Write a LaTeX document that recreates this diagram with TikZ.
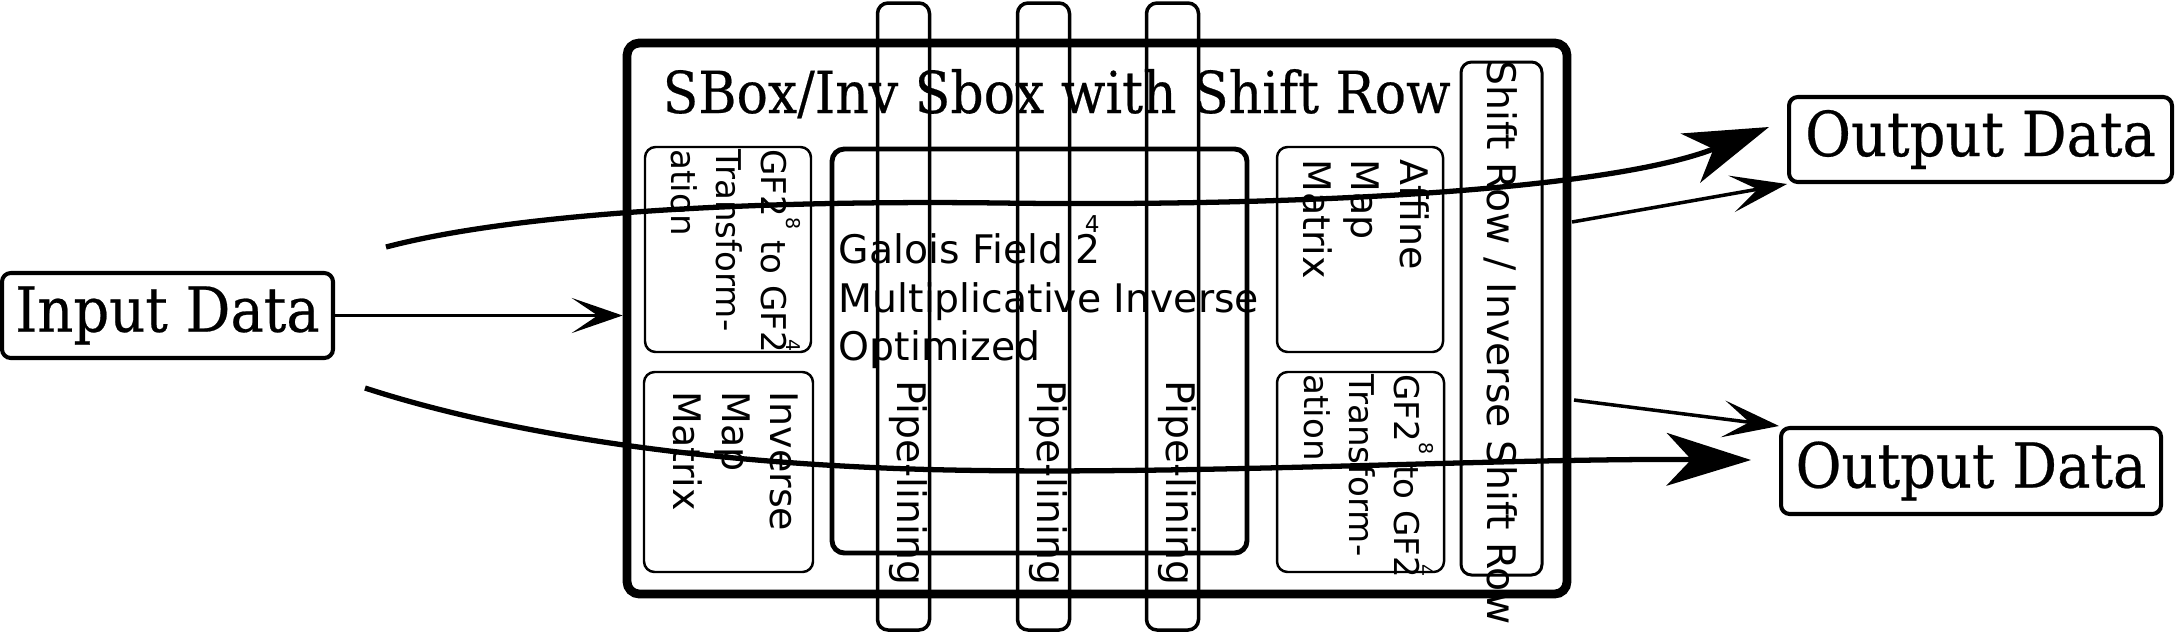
\documentclass[tikz,border=0pt]{standalone}
\usepackage{fontspec}
\setmainfont{DejaVu Serif}[FakeStretch=0.9, FakeBold=0.4]
\setsansfont{DejaVu Sans}
\usetikzlibrary{positioning,calc,arrows.meta}

\newcommand{\gfsup}[1]{\raisebox{0.73em}[0pt][0pt]{\fontsize{5.4pt}{6pt}\selectfont #1}}

\begin{document}
\begin{tikzpicture}[
  x=0.1mm, y=-0.1mm,
  io/.style={draw, rounded corners=2.5pt, line width=1.15pt, inner sep=0pt, font=\fontsize{17.7pt}{20pt}\selectfont},
  mainbox/.style={draw, rounded corners=3.5pt, line width=2.5pt},
  gfbox/.style={draw, rounded corners=3.5pt, line width=1.4pt},
  pipe/.style={draw, rounded corners=3pt, line width=1pt, minimum width=5.2mm, minimum height=62.7mm},
  box/.style={draw, rounded corners=3pt, line width=0.7pt},
  vtext/.style={rotate=-90, anchor=north west, inner sep=0pt, align=left, font=\sffamily\fontsize{10.8pt}{13.9pt}\selectfont},
  vline/.style={rotate=-90, anchor=base west, inner sep=0pt, font=\sffamily\fontsize{11.2pt}{13pt}\selectfont},
  arrow/.style={-{Stealth[length=14.5pt, width=10pt, inset=7.4pt]}, line width=0.75pt},
  outarrow/.style={-{Stealth[length=16pt, width=10.5pt, inset=7.5pt]}, line width=1pt},
  bigarrow/.style={-{Stealth[length=24pt, width=15pt, inset=7pt]}, line width=1.5pt}
]
\useasboundingbox (0,0) rectangle (2175,634);

\node[mainbox, minimum width=94mm, minimum height=55.1mm] (sbox) at (1097,318.5) {};
\node[anchor=base west, inner sep=0pt, font=\fontsize{16.45pt}{19pt}\selectfont] (title) at (662,113) {SBox/Inv Sbox with Shift Row};

\node[gfbox, minimum width=41.5mm, minimum height=40.4mm] (gf) at (1039.5,351) {};
\node[anchor=north west, inner sep=0pt, align=left, font=\sffamily\fontsize{11.2pt}{13.8pt}\selectfont] (gftext) at (838,233)
  {Galois Field 2\hspace{-0.4em}\raisebox{0.78em}[0pt][0pt]{\fontsize{6.6pt}{7pt}\selectfont 4}\\Multiplicative Inverse\\Optimized};

\foreach \px/\nm in {903.5/pipeA, 1043.5/pipeB, 1172.5/pipeC}{
  \node[pipe] (\nm) at (\px,316.5) {};
  \node[vline] (\nm-t) at (\px-6.5,380) {Pipe-lining};
}

\node[box, minimum width=16.6mm, minimum height=20.5mm] (gfA) at (728,249.5) {};
\node[vtext, font=\sffamily\fontsize{9.7pt}{12.8pt}\selectfont] (gfA-t) at ($(gfA.north east)+(-25,3)$)
  {GF2\gfsup{8} to GF2\hspace{-0.4em}\gfsup{4}\\Transform-\\ation};
\node[box, minimum width=16.9mm, minimum height=20mm] (inv) at (728.5,472) {};
\node[vtext] (inv-t) at ($(inv.north east)+(-15,20)$) {Inverse\\Map\\Matrix};

\node[box, minimum width=16.6mm, minimum height=20.5mm] (aff) at (1360,249.5) {};
\node[vtext] (aff-t) at ($(aff.north east)+(-14,13)$) {Affine\\Map\\Matrix};
\node[box, minimum width=16.7mm, minimum height=20mm] (gfB) at (1360.5,472) {};
\node[vtext, font=\sffamily\fontsize{9.7pt}{12.8pt}\selectfont] (gfB-t) at ($(gfB.north east)+(-25,3)$)
  {GF2\gfsup{8} to GF2\hspace{-0.4em}\gfsup{4}\\Transform-\\ation};

\node[box, line width=0.85pt, minimum width=8.1mm, minimum height=51.3mm] (shift) at (1501.5,318.5) {};
\node[vline] (shift-t) at (1487,60) {Shift Row / Inverse Shift Row};

\node[io, minimum width=33.1mm, minimum height=8.5mm] (inp) at (167.5,315.5) {Input Data};
\node[io, minimum width=38.3mm, minimum height=8.5mm] (outA) at (1980.5,139.5) {Output Data};
\node[io, minimum width=38mm, minimum height=8.6mm] (outB) at (1971,471) {Output Data};

\coordinate (upA) at (386,247);
\coordinate (upB) at (1769,127);
\coordinate (lowA) at (365,388);
\coordinate (lowB) at (1751,460);
\coordinate (srA) at (1572,222);
\coordinate (srB) at (1574,400);

\draw[arrow] (inp.east) -- (inp.east -| sbox.west);
\draw[bigarrow] (upA) .. controls (520,212) and (760,200) .. (1000,203) .. controls (1300,207) and (1610,190) .. (upB);
\draw[bigarrow] (lowA) .. controls (500,432) and (700,465) .. (950,470) .. controls (1200,475) and (1500,458) .. (lowB);
\draw[outarrow] (srA) -- (outA.south west);
\draw[outarrow] (srB) -- (outB.north west);
\end{tikzpicture}
\end{document}
